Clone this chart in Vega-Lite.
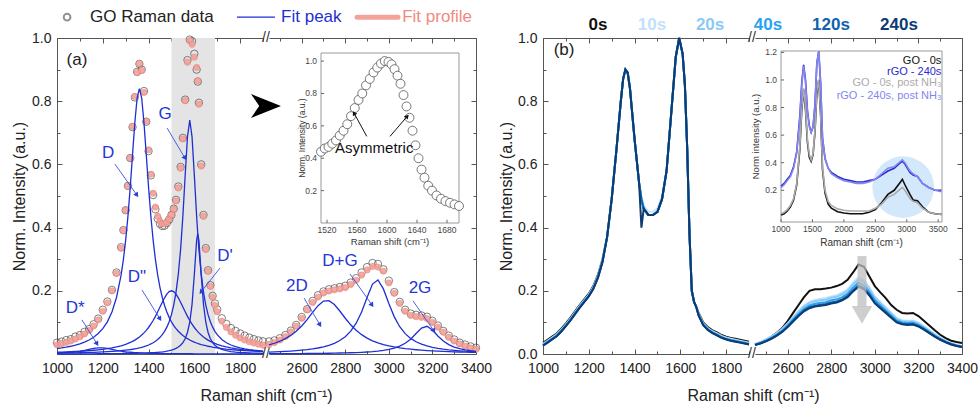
{
"$schema": "https://vega.github.io/schema/vega-lite/v6.json",
"background": "white",
"padding": {"left": 11, "top": 8, "right": 5, "bottom": 5},
"bounds": "flush",
"spacing": 6,
"resolve": {"scale": {"color": "independent"}},
"config": {
 "view": {"stroke": null},
 "font": "Liberation Sans",
 "axis": {"labelFont": "Liberation Sans", "titleFont": "Liberation Sans", "labelFontSize": 14, "labelColor": "#222", "titleFontSize": 16, "titleFontWeight": "normal", "titleColor": "#222", "domainColor": "#555", "tickColor": "#555", "grid": false, "labelFlush": false, "labelOverlap": false, "domainWidth": 1, "tickWidth": 1}
},
"datasets": {
 "aL": [
  {"x":1000,"d":0.036,"f":0.029,"Ds":0.003,"D":0.0172,"Dpp":0.0056,"G":0.0028,"Dp":0.0004},
  {"x":1020,"d":0.039,"f":0.0324,"Ds":0.0036,"D":0.0192,"Dpp":0.0061,"G":0.0031,"Dp":0.0004},
  {"x":1040,"d":0.044,"f":0.0364,"Ds":0.0044,"D":0.0216,"Dpp":0.0066,"G":0.0033,"Dp":0.0005},
  {"x":1060,"d":0.047,"f":0.0412,"Ds":0.0055,"D":0.0245,"Dpp":0.0072,"G":0.0035,"Dp":0.0005},
  {"x":1080,"d":0.055,"f":0.0471,"Ds":0.0069,"D":0.028,"Dpp":0.0079,"G":0.0038,"Dp":0.0005},
  {"x":1100,"d":0.06,"f":0.0544,"Ds":0.0088,"D":0.0323,"Dpp":0.0086,"G":0.0041,"Dp":0.0006},
  {"x":1120,"d":0.07,"f":0.0636,"Ds":0.0113,"D":0.0377,"Dpp":0.0095,"G":0.0045,"Dp":0.0006},
  {"x":1140,"d":0.079,"f":0.075,"Ds":0.0144,"D":0.0444,"Dpp":0.0106,"G":0.0049,"Dp":0.0007},
  {"x":1160,"d":0.094,"f":0.0886,"Ds":0.0175,"D":0.0532,"Dpp":0.0118,"G":0.0054,"Dp":0.0007},
  {"x":1180,"d":0.112,"f":0.108,"Ds":0.0197,"D":0.0647,"Dpp":0.0132,"G":0.0059,"Dp":0.0008},
  {"x":1200,"d":0.14,"f":0.135,"Ds":0.0197,"D":0.0803,"Dpp":0.0149,"G":0.0066,"Dp":0.0009},
  {"x":1220,"d":0.166,"f":0.162,"Ds":0.0175,"D":0.1018,"Dpp":0.0169,"G":0.0073,"Dp":0.001},
  {"x":1240,"d":0.203,"f":0.2,"Ds":0.0144,"D":0.1328,"Dpp":0.0193,"G":0.0082,"Dp":0.0011},
  {"x":1260,"d":0.258,"f":0.255,"Ds":0.0113,"D":0.1788,"Dpp":0.0223,"G":0.0093,"Dp":0.0012},
  {"x":1280,"d":0.338,"f":0.335,"Ds":0.0088,"D":0.2495,"Dpp":0.026,"G":0.0105,"Dp":0.0015},
  {"x":1290,"d":0.392,"f":0.39,"Ds":0.0078,"D":0.2987,"Dpp":0.0282,"G":0.0112,"Dp":0.0016},
  {"x":1300,"d":0.455,"f":0.455,"Ds":0.0069,"D":0.3604,"Dpp":0.0306,"G":0.012,"Dp":0.0017},
  {"x":1310,"d":0.532,"f":0.53,"Ds":0.0062,"D":0.4365,"Dpp":0.0334,"G":0.0129,"Dp":0.0018},
  {"x":1320,"d":0.62,"f":0.62,"Ds":0.0055,"D":0.5277,"Dpp":0.0365,"G":0.0139,"Dp":0.0019},
  {"x":1330,"d":0.718,"f":0.72,"Ds":0.0049,"D":0.6303,"Dpp":0.04,"G":0.015,"Dp":0.0021},
  {"x":1340,"d":0.812,"f":0.815,"Ds":0.0044,"D":0.7318,"Dpp":0.044,"G":0.0163,"Dp":0.0022},
  {"x":1350,"d":0.893,"f":0.89,"Ds":0.004,"D":0.81,"Dpp":0.0486,"G":0.0177,"Dp":0.0024},
  {"x":1360,"d":0.918,"f":0.9194,"Ds":0.0036,"D":0.84,"Dpp":0.0539,"G":0.0193,"Dp":0.0026},
  {"x":1370,"d":0.9,"f":0.8971,"Ds":0.0033,"D":0.81,"Dpp":0.0599,"G":0.0211,"Dp":0.0028},
  {"x":1380,"d":0.832,"f":0.8278,"Ds":0.003,"D":0.7318,"Dpp":0.0668,"G":0.0232,"Dp":0.003},
  {"x":1390,"d":0.735,"f":0.7367,"Ds":0.0028,"D":0.6303,"Dpp":0.0748,"G":0.0256,"Dp":0.0032},
  {"x":1400,"d":0.642,"f":0.6462,"Ds":0.0025,"D":0.5277,"Dpp":0.0839,"G":0.0285,"Dp":0.0036},
  {"x":1410,"d":0.565,"f":0.5688,"Ds":0.0023,"D":0.4365,"Dpp":0.0943,"G":0.0318,"Dp":0.0039},
  {"x":1420,"d":0.503,"f":0.5088,"Ds":0.0022,"D":0.3604,"Dpp":0.1061,"G":0.0357,"Dp":0.0044},
  {"x":1430,"d":0.458,"f":0.465,"Ds":0.002,"D":0.2987,"Dpp":0.1192,"G":0.0403,"Dp":0.0048},
  {"x":1440,"d":0.428,"f":0.4362,"Ds":0.0019,"D":0.2495,"Dpp":0.1335,"G":0.0459,"Dp":0.0054},
  {"x":1450,"d":0.412,"f":0.4193,"Ds":0.0017,"D":0.2102,"Dpp":0.1486,"G":0.0527,"Dp":0.0061},
  {"x":1460,"d":0.405,"f":0.412,"Ds":0.0016,"D":0.1788,"Dpp":0.1637,"G":0.0611,"Dp":0.0068},
  {"x":1470,"d":0.406,"f":0.4121,"Ds":0.0015,"D":0.1534,"Dpp":0.1778,"G":0.0716,"Dp":0.0078},
  {"x":1480,"d":0.414,"f":0.4176,"Ds":0.0014,"D":0.1328,"Dpp":0.1895,"G":0.0849,"Dp":0.009},
  {"x":1490,"d":0.425,"f":0.427,"Ds":0.0013,"D":0.1159,"Dpp":0.1973,"G":0.1021,"Dp":0.0104},
  {"x":1500,"d":0.44,"f":0.44,"Ds":0.0013,"D":0.1018,"Dpp":0.2,"G":0.1246,"Dp":0.0123},
  {"x":1510,"d":0.46,"f":0.458,"Ds":0.0012,"D":0.0901,"Dpp":0.1973,"G":0.1548,"Dp":0.0146},
  {"x":1520,"d":0.488,"f":0.4845,"Ds":0.0011,"D":0.0803,"Dpp":0.1895,"G":0.1959,"Dp":0.0177},
  {"x":1530,"d":0.53,"f":0.5253,"Ds":0.0011,"D":0.0719,"Dpp":0.1778,"G":0.2526,"Dp":0.0219},
  {"x":1540,"d":0.592,"f":0.5881,"Ds":0.001,"D":0.0647,"Dpp":0.1637,"G":0.3311,"Dp":0.0276},
  {"x":1550,"d":0.684,"f":0.6806,"Ds":0.0009,"D":0.0585,"Dpp":0.1486,"G":0.4367,"Dp":0.0359},
  {"x":1560,"d":0.805,"f":0.8015,"Ds":0.0009,"D":0.0532,"Dpp":0.1335,"G":0.5655,"Dp":0.0484},
  {"x":1570,"d":0.93,"f":0.9235,"Ds":0.0008,"D":0.0485,"Dpp":0.1192,"G":0.687,"Dp":0.068},
  {"x":1580,"d":0.995,"f":0.9919,"Ds":0.0008,"D":0.0444,"Dpp":0.1061,"G":0.74,"Dp":0.1006},
  {"x":1590,"d":0.99,"f":0.9802,"Ds":0.0008,"D":0.0409,"Dpp":0.0943,"G":0.687,"Dp":0.1572},
  {"x":1600,"d":0.95,"f":0.9394,"Ds":0.0007,"D":0.0377,"Dpp":0.0839,"G":0.5655,"Dp":0.2516},
  {"x":1610,"d":0.9,"f":0.9066,"Ds":0.0007,"D":0.0348,"Dpp":0.0748,"G":0.4367,"Dp":0.3596},
  {"x":1615,"d":0.862,"f":0.8653,"Ds":0.0007,"D":0.0335,"Dpp":0.0707,"G":0.3804,"Dp":0.38},
  {"x":1620,"d":0.795,"f":0.7905,"Ds":0.0007,"D":0.0323,"Dpp":0.0668,"G":0.3311,"Dp":0.3596},
  {"x":1630,"d":0.6,"f":0.5947,"Ds":0.0006,"D":0.03,"Dpp":0.0599,"G":0.2526,"Dp":0.2516},
  {"x":1640,"d":0.44,"f":0.4356,"Ds":0.0006,"D":0.028,"Dpp":0.0539,"G":0.1959,"Dp":0.1572},
  {"x":1650,"d":0.335,"f":0.3308,"Ds":0.0006,"D":0.0262,"Dpp":0.0486,"G":0.1548,"Dp":0.1006},
  {"x":1660,"d":0.265,"f":0.2616,"Ds":0.0005,"D":0.0245,"Dpp":0.044,"G":0.1246,"Dp":0.068},
  {"x":1670,"d":0.218,"f":0.214,"Ds":0.0005,"D":0.023,"Dpp":0.04,"G":0.1021,"Dp":0.0484},
  {"x":1680,"d":0.184,"f":0.1794,"Ds":0.0005,"D":0.0216,"Dpp":0.0365,"G":0.0849,"Dp":0.0359},
  {"x":1690,"d":0.16,"f":0.1535,"Ds":0.0005,"D":0.0204,"Dpp":0.0334,"G":0.0716,"Dp":0.0276},
  {"x":1700,"d":0.141,"f":0.1333,"Ds":0.0005,"D":0.0192,"Dpp":0.0306,"G":0.0611,"Dp":0.0219},
  {"x":1720,"d":0.113,"f":0.1041,"Ds":0.0004,"D":0.0172,"Dpp":0.026,"G":0.0459,"Dp":0.0146},
  {"x":1740,"d":0.095,"f":0.0842,"Ds":0.0004,"D":0.0154,"Dpp":0.0223,"G":0.0357,"Dp":0.0104},
  {"x":1760,"d":0.082,"f":0.07,"Ds":0.0004,"D":0.014,"Dpp":0.0193,"G":0.0285,"Dp":0.0078},
  {"x":1780,"d":0.073,"f":0.0593,"Ds":0.0004,"D":0.0127,"Dpp":0.0169,"G":0.0232,"Dp":0.0061},
  {"x":1800,"d":0.065,"f":0.0509,"Ds":0.0003,"D":0.0116,"Dpp":0.0149,"G":0.0193,"Dp":0.0048},
  {"x":1820,"d":0.058,"f":0.0443,"Ds":0.0003,"D":0.0106,"Dpp":0.0132,"G":0.0163,"Dp":0.0039},
  {"x":1840,"d":0.052,"f":0.0389,"Ds":0.0003,"D":0.0097,"Dpp":0.0118,"G":0.0139,"Dp":0.0032},
  {"x":1860,"d":0.047,"f":0.0347,"Ds":0.0003,"D":0.009,"Dpp":0.0106,"G":0.012,"Dp":0.0028},
  {"x":1880,"d":0.043,"f":0.031,"Ds":0.0003,"D":0.0083,"Dpp":0.0095,"G":0.0105,"Dp":0.0024},
  {"x":1900,"d":0.04,"f":0.028,"Ds":0.0003,"D":0.0077,"Dpp":0.0086,"G":0.0093,"Dp":0.0021}
 ],
 "aR": [
  {"x":2450,"d":0.04,"f":0.03,"p2D":0.0289,"pDG":0.006,"p2G":0.0009},
  {"x":2475,"d":0.043,"f":0.036,"p2D":0.034,"pDG":0.0066,"p2G":0.001},
  {"x":2500,"d":0.05,"f":0.044,"p2D":0.0404,"pDG":0.0074,"p2G":0.0011},
  {"x":2525,"d":0.06,"f":0.055,"p2D":0.0485,"pDG":0.0082,"p2G":0.0012},
  {"x":2550,"d":0.074,"f":0.07,"p2D":0.0588,"pDG":0.0093,"p2G":0.0013},
  {"x":2575,"d":0.092,"f":0.088,"p2D":0.072,"pDG":0.0105,"p2G":0.0014},
  {"x":2600,"d":0.117,"f":0.113,"p2D":0.0886,"pDG":0.012,"p2G":0.0015},
  {"x":2625,"d":0.142,"f":0.14,"p2D":0.1088,"pDG":0.0138,"p2G":0.0016},
  {"x":2650,"d":0.168,"f":0.163,"p2D":0.1314,"pDG":0.0161,"p2G":0.0018},
  {"x":2675,"d":0.186,"f":0.18,"p2D":0.153,"pDG":0.019,"p2G":0.002},
  {"x":2700,"d":0.198,"f":0.193,"p2D":0.1674,"pDG":0.0226,"p2G":0.0022},
  {"x":2725,"d":0.205,"f":0.199,"p2D":0.1688,"pDG":0.0274,"p2G":0.0024},
  {"x":2750,"d":0.208,"f":0.203,"p2D":0.1567,"pDG":0.0339,"p2G":0.0027},
  {"x":2775,"d":0.212,"f":0.206,"p2D":0.136,"pDG":0.0426,"p2G":0.0031},
  {"x":2800,"d":0.216,"f":0.21,"p2D":0.1132,"pDG":0.0548,"p2G":0.0035},
  {"x":2825,"d":0.226,"f":0.22,"p2D":0.0924,"pDG":0.0723,"p2G":0.004},
  {"x":2850,"d":0.24,"f":0.233,"p2D":0.075,"pDG":0.0975,"p2G":0.0046},
  {"x":2875,"d":0.258,"f":0.25,"p2D":0.0612,"pDG":0.1331,"p2G":0.0053},
  {"x":2900,"d":0.275,"f":0.266,"p2D":0.0503,"pDG":0.1785,"p2G":0.0063},
  {"x":2925,"d":0.288,"f":0.277,"p2D":0.0418,"pDG":0.2212,"p2G":0.0075},
  {"x":2950,"d":0.285,"f":0.275,"p2D":0.0352,"pDG":0.2341,"p2G":0.0092},
  {"x":2975,"d":0.268,"f":0.262,"p2D":0.0299,"pDG":0.206,"p2G":0.0113},
  {"x":3000,"d":0.232,"f":0.225,"p2D":0.0256,"pDG":0.1596,"p2G":0.0143},
  {"x":3025,"d":0.196,"f":0.192,"p2D":0.0222,"pDG":0.1175,"p2G":0.0186},
  {"x":3050,"d":0.165,"f":0.16,"p2D":0.0193,"pDG":0.0863,"p2G":0.0247},
  {"x":3075,"d":0.14,"f":0.135,"p2D":0.017,"pDG":0.0645,"p2G":0.0338},
  {"x":3100,"d":0.128,"f":0.122,"p2D":0.0151,"pDG":0.0494,"p2G":0.047},
  {"x":3125,"d":0.124,"f":0.118,"p2D":0.0134,"pDG":0.0388,"p2G":0.0647},
  {"x":3150,"d":0.122,"f":0.116,"p2D":0.012,"pDG":0.0311,"p2G":0.0822},
  {"x":3175,"d":0.118,"f":0.112,"p2D":0.0108,"pDG":0.0254,"p2G":0.0876},
  {"x":3200,"d":0.105,"f":0.1,"p2D":0.0098,"pDG":0.0211,"p2G":0.0759},
  {"x":3225,"d":0.09,"f":0.085,"p2D":0.0089,"pDG":0.0177,"p2G":0.0572},
  {"x":3250,"d":0.073,"f":0.069,"p2D":0.0081,"pDG":0.0151,"p2G":0.0412},
  {"x":3275,"d":0.058,"f":0.053,"p2D":0.0075,"pDG":0.013,"p2G":0.0297},
  {"x":3300,"d":0.046,"f":0.041,"p2D":0.0069,"pDG":0.0114,"p2G":0.022},
  {"x":3325,"d":0.036,"f":0.032,"p2D":0.0063,"pDG":0.01,"p2G":0.0167},
  {"x":3350,"d":0.03,"f":0.025,"p2D":0.0059,"pDG":0.0088,"p2G":0.013},
  {"x":3375,"d":0.024,"f":0.019,"p2D":0.0054,"pDG":0.0079,"p2G":0.0104},
  {"x":3400,"d":0.02,"f":0.015,"p2D":0.0051,"pDG":0.007,"p2G":0.0085}
 ],
 "aI": [
  {"x":1512,"y":0.44},{"x":1517,"y":0.46},{"x":1522,"y":0.47},{"x":1527,"y":0.49},{"x":1532,"y":0.51},
  {"x":1537,"y":0.54},{"x":1542,"y":0.57},{"x":1547,"y":0.61},{"x":1552,"y":0.66},{"x":1557,"y":0.71},
  {"x":1562,"y":0.76},{"x":1567,"y":0.8},{"x":1572,"y":0.85},{"x":1577,"y":0.89},{"x":1582,"y":0.93},
  {"x":1587,"y":0.96},{"x":1592,"y":0.985},{"x":1597,"y":1.0},{"x":1602,"y":0.995},{"x":1606,"y":0.98},
  {"x":1610,"y":0.95},{"x":1614,"y":0.91},{"x":1618,"y":0.86},{"x":1622,"y":0.79},{"x":1626,"y":0.72},
  {"x":1630,"y":0.65},{"x":1634,"y":0.57},{"x":1638,"y":0.48},{"x":1642,"y":0.4},{"x":1646,"y":0.33},
  {"x":1650,"y":0.28},{"x":1655,"y":0.23},{"x":1660,"y":0.2},{"x":1666,"y":0.17},{"x":1672,"y":0.15},
  {"x":1678,"y":0.135},{"x":1684,"y":0.125},{"x":1690,"y":0.115},{"x":1696,"y":0.105}
 ],
 "bL": [
  {"x":1000,"s0":0.035,"s10":0.032,"s20":0.03,"s40":0.028,"s120":0.027,"s240":0.026},
  {"x":1020,"s0":0.045,"s10":0.042,"s20":0.04,"s40":0.038,"s120":0.037,"s240":0.036},
  {"x":1040,"s0":0.055,"s10":0.052,"s20":0.05,"s40":0.048,"s120":0.047,"s240":0.046},
  {"x":1060,"s0":0.065,"s10":0.062,"s20":0.06,"s40":0.058,"s120":0.057,"s240":0.056},
  {"x":1080,"s0":0.08,"s10":0.077,"s20":0.075,"s40":0.073,"s120":0.072,"s240":0.071},
  {"x":1100,"s0":0.097,"s10":0.094,"s20":0.092,"s40":0.09,"s120":0.089,"s240":0.088},
  {"x":1120,"s0":0.115,"s10":0.112,"s20":0.11,"s40":0.108,"s120":0.107,"s240":0.106},
  {"x":1140,"s0":0.135,"s10":0.132,"s20":0.13,"s40":0.128,"s120":0.127,"s240":0.126},
  {"x":1160,"s0":0.155,"s10":0.152,"s20":0.15,"s40":0.148,"s120":0.147,"s240":0.146},
  {"x":1180,"s0":0.173,"s10":0.17,"s20":0.168,"s40":0.166,"s120":0.165,"s240":0.164},
  {"x":1200,"s0":0.191,"s10":0.188,"s20":0.186,"s40":0.184,"s120":0.183,"s240":0.182},
  {"x":1220,"s0":0.215,"s10":0.212,"s20":0.21,"s40":0.208,"s120":0.207,"s240":0.206},
  {"x":1240,"s0":0.25,"s10":0.247,"s20":0.245,"s40":0.243,"s120":0.242,"s240":0.241},
  {"x":1260,"s0":0.3,"s10":0.297,"s20":0.295,"s40":0.293,"s120":0.292,"s240":0.291},
  {"x":1280,"s0":0.37,"s10":0.37,"s20":0.37,"s40":0.37,"s120":0.37,"s240":0.37},
  {"x":1300,"s0":0.49,"s10":0.49,"s20":0.49,"s40":0.49,"s120":0.49,"s240":0.49},
  {"x":1320,"s0":0.64,"s10":0.64,"s20":0.64,"s40":0.64,"s120":0.64,"s240":0.64},
  {"x":1340,"s0":0.8,"s10":0.8,"s20":0.8,"s40":0.8,"s120":0.8,"s240":0.8},
  {"x":1350,"s0":0.87,"s10":0.87,"s20":0.87,"s40":0.87,"s120":0.87,"s240":0.87},
  {"x":1360,"s0":0.9,"s10":0.9,"s20":0.9,"s40":0.9,"s120":0.9,"s240":0.9},
  {"x":1370,"s0":0.89,"s10":0.89,"s20":0.89,"s40":0.89,"s120":0.89,"s240":0.89},
  {"x":1380,"s0":0.84,"s10":0.84,"s20":0.84,"s40":0.84,"s120":0.84,"s240":0.84},
  {"x":1400,"s0":0.68,"s10":0.68,"s20":0.68,"s40":0.68,"s120":0.68,"s240":0.68},
  {"x":1420,"s0":0.54,"s10":0.54,"s20":0.54,"s40":0.54,"s120":0.54,"s240":0.54},
  {"x":1430,"s0":0.49,"s10":0.5,"s20":0.49,"s40":0.49,"s120":0.49,"s240":0.4},
  {"x":1440,"s0":0.46,"s10":0.47,"s20":0.46,"s40":0.46,"s120":0.46,"s240":0.46},
  {"x":1460,"s0":0.44,"s10":0.45,"s20":0.44,"s40":0.44,"s120":0.44,"s240":0.44},
  {"x":1480,"s0":0.44,"s10":0.45,"s20":0.44,"s40":0.44,"s120":0.44,"s240":0.44},
  {"x":1500,"s0":0.45,"s10":0.46,"s20":0.45,"s40":0.45,"s120":0.45,"s240":0.45},
  {"x":1520,"s0":0.49,"s10":0.5,"s20":0.49,"s40":0.49,"s120":0.49,"s240":0.49},
  {"x":1540,"s0":0.58,"s10":0.58,"s20":0.58,"s40":0.58,"s120":0.58,"s240":0.58},
  {"x":1560,"s0":0.76,"s10":0.76,"s20":0.76,"s40":0.76,"s120":0.76,"s240":0.76},
  {"x":1580,"s0":0.94,"s10":0.94,"s20":0.94,"s40":0.94,"s120":0.94,"s240":0.94},
  {"x":1595,"s0":1.0,"s10":1.0,"s20":1.0,"s40":1.0,"s120":1.0,"s240":1.0},
  {"x":1610,"s0":0.95,"s10":0.95,"s20":0.95,"s40":0.95,"s120":0.95,"s240":0.95},
  {"x":1620,"s0":0.85,"s10":0.85,"s20":0.85,"s40":0.85,"s120":0.85,"s240":0.85},
  {"x":1630,"s0":0.65,"s10":0.65,"s20":0.65,"s40":0.65,"s120":0.65,"s240":0.65},
  {"x":1640,"s0":0.38,"s10":0.38,"s20":0.38,"s40":0.38,"s120":0.38,"s240":0.38},
  {"x":1650,"s0":0.2,"s10":0.2,"s20":0.2,"s40":0.2,"s120":0.2,"s240":0.2},
  {"x":1660,"s0":0.165,"s10":0.165,"s20":0.165,"s40":0.165,"s120":0.165,"s240":0.165},
  {"x":1670,"s0":0.148,"s10":0.148,"s20":0.148,"s40":0.148,"s120":0.148,"s240":0.148},
  {"x":1680,"s0":0.13,"s10":0.127,"s20":0.125,"s40":0.123,"s120":0.122,"s240":0.121},
  {"x":1700,"s0":0.1,"s10":0.097,"s20":0.095,"s40":0.093,"s120":0.092,"s240":0.091},
  {"x":1720,"s0":0.085,"s10":0.082,"s20":0.08,"s40":0.078,"s120":0.077,"s240":0.076},
  {"x":1740,"s0":0.075,"s10":0.072,"s20":0.07,"s40":0.068,"s120":0.067,"s240":0.066},
  {"x":1760,"s0":0.068,"s10":0.065,"s20":0.063,"s40":0.061,"s120":0.06,"s240":0.059},
  {"x":1780,"s0":0.06,"s10":0.057,"s20":0.055,"s40":0.053,"s120":0.052,"s240":0.051},
  {"x":1800,"s0":0.055,"s10":0.052,"s20":0.05,"s40":0.048,"s120":0.047,"s240":0.046},
  {"x":1820,"s0":0.051,"s10":0.048,"s20":0.046,"s40":0.044,"s120":0.043,"s240":0.042},
  {"x":1840,"s0":0.048,"s10":0.045,"s20":0.043,"s40":0.041,"s120":0.04,"s240":0.039},
  {"x":1860,"s0":0.045,"s10":0.042,"s20":0.04,"s40":0.038,"s120":0.037,"s240":0.036},
  {"x":1880,"s0":0.042,"s10":0.039,"s20":0.037,"s40":0.035,"s120":0.034,"s240":0.033},
  {"x":1900,"s0":0.039,"s10":0.036,"s20":0.034,"s40":0.032,"s120":0.031,"s240":0.03}
 ],
 "bR": [
  {"x":2450,"s0":0.03,"s10":0.032,"s20":0.031,"s40":0.03,"s120":0.029,"s240":0.028},
  {"x":2475,"s0":0.037,"s10":0.038,"s20":0.037,"s40":0.035,"s120":0.034,"s240":0.033},
  {"x":2500,"s0":0.045,"s10":0.046,"s20":0.044,"s40":0.042,"s120":0.041,"s240":0.04},
  {"x":2525,"s0":0.055,"s10":0.055,"s20":0.053,"s40":0.051,"s120":0.049,"s240":0.048},
  {"x":2550,"s0":0.067,"s10":0.066,"s20":0.064,"s40":0.061,"s120":0.059,"s240":0.058},
  {"x":2575,"s0":0.082,"s10":0.08,"s20":0.078,"s40":0.074,"s120":0.071,"s240":0.07},
  {"x":2600,"s0":0.104,"s10":0.097,"s20":0.094,"s40":0.09,"s120":0.087,"s240":0.085},
  {"x":2625,"s0":0.13,"s10":0.117,"s20":0.114,"s40":0.109,"s120":0.105,"s240":0.103},
  {"x":2650,"s0":0.155,"s10":0.137,"s20":0.133,"s40":0.127,"s120":0.122,"s240":0.12},
  {"x":2675,"s0":0.18,"s10":0.154,"s20":0.15,"s40":0.143,"s120":0.138,"s240":0.135},
  {"x":2700,"s0":0.2,"s10":0.165,"s20":0.161,"s40":0.154,"s120":0.148,"s240":0.145},
  {"x":2725,"s0":0.205,"s10":0.171,"s20":0.167,"s40":0.159,"s120":0.153,"s240":0.15},
  {"x":2750,"s0":0.205,"s10":0.174,"s20":0.17,"s40":0.162,"s120":0.156,"s240":0.153},
  {"x":2775,"s0":0.207,"s10":0.177,"s20":0.172,"s40":0.164,"s120":0.158,"s240":0.155},
  {"x":2800,"s0":0.21,"s10":0.182,"s20":0.178,"s40":0.17,"s120":0.163,"s240":0.16},
  {"x":2825,"s0":0.215,"s10":0.186,"s20":0.181,"s40":0.173,"s120":0.166,"s240":0.163},
  {"x":2850,"s0":0.222,"s10":0.194,"s20":0.189,"s40":0.18,"s120":0.173,"s240":0.17},
  {"x":2875,"s0":0.235,"s10":0.205,"s20":0.2,"s40":0.191,"s120":0.184,"s240":0.18},
  {"x":2900,"s0":0.258,"s10":0.226,"s20":0.22,"s40":0.21,"s120":0.202,"s240":0.198},
  {"x":2925,"s0":0.283,"s10":0.243,"s20":0.236,"s40":0.226,"s120":0.217,"s240":0.213},
  {"x":2950,"s0":0.276,"s10":0.234,"s20":0.228,"s40":0.217,"s120":0.209,"s240":0.205},
  {"x":2975,"s0":0.245,"s10":0.211,"s20":0.205,"s40":0.196,"s120":0.189,"s240":0.185},
  {"x":3000,"s0":0.215,"s10":0.182,"s20":0.178,"s40":0.17,"s120":0.163,"s240":0.16},
  {"x":3025,"s0":0.195,"s10":0.165,"s20":0.161,"s40":0.154,"s120":0.148,"s240":0.145},
  {"x":3050,"s0":0.177,"s10":0.148,"s20":0.144,"s40":0.138,"s120":0.133,"s240":0.13},
  {"x":3075,"s0":0.155,"s10":0.131,"s20":0.128,"s40":0.122,"s120":0.117,"s240":0.115},
  {"x":3100,"s0":0.14,"s10":0.114,"s20":0.111,"s40":0.106,"s120":0.102,"s240":0.1},
  {"x":3125,"s0":0.13,"s10":0.107,"s20":0.104,"s40":0.1,"s120":0.096,"s240":0.094},
  {"x":3150,"s0":0.128,"s10":0.105,"s20":0.102,"s40":0.098,"s120":0.094,"s240":0.092},
  {"x":3175,"s0":0.13,"s10":0.106,"s20":0.103,"s40":0.099,"s120":0.095,"s240":0.093},
  {"x":3200,"s0":0.12,"s10":0.099,"s20":0.097,"s40":0.092,"s120":0.089,"s240":0.087},
  {"x":3225,"s0":0.105,"s10":0.088,"s20":0.085,"s40":0.082,"s120":0.079,"s240":0.077},
  {"x":3250,"s0":0.09,"s10":0.075,"s20":0.073,"s40":0.07,"s120":0.067,"s240":0.066},
  {"x":3275,"s0":0.075,"s10":0.063,"s20":0.061,"s40":0.058,"s120":0.056,"s240":0.055},
  {"x":3300,"s0":0.061,"s10":0.051,"s20":0.05,"s40":0.048,"s120":0.046,"s240":0.045},
  {"x":3325,"s0":0.05,"s10":0.042,"s20":0.041,"s40":0.039,"s120":0.038,"s240":0.037},
  {"x":3350,"s0":0.042,"s10":0.034,"s20":0.033,"s40":0.032,"s120":0.031,"s240":0.03},
  {"x":3375,"s0":0.038,"s10":0.029,"s20":0.028,"s40":0.027,"s120":0.026,"s240":0.025},
  {"x":3400,"s0":0.035,"s10":0.025,"s20":0.024,"s40":0.023,"s120":0.022,"s240":0.022}
 ],
 "bI": [
  {"x":1000,"go":0.02,"gon":0.03,"rgo":0.23,"rgon":0.22},
  {"x":1050,"go":0.03,"gon":0.04,"rgo":0.25,"rgon":0.24},
  {"x":1100,"go":0.05,"gon":0.06,"rgo":0.28,"rgon":0.27},
  {"x":1150,"go":0.08,"gon":0.09,"rgo":0.31,"rgon":0.3},
  {"x":1200,"go":0.13,"gon":0.14,"rgo":0.37,"rgon":0.36},
  {"x":1250,"go":0.24,"gon":0.25,"rgo":0.48,"rgon":0.47},
  {"x":1300,"go":0.5,"gon":0.52,"rgo":0.74,"rgon":0.72},
  {"x":1330,"go":0.78,"gon":0.8,"rgo":0.98,"rgon":0.96},
  {"x":1360,"go":0.93,"gon":0.94,"rgo":1.11,"rgon":1.1},
  {"x":1390,"go":0.78,"gon":0.8,"rgo":1.0,"rgon":0.98},
  {"x":1420,"go":0.55,"gon":0.57,"rgo":0.78,"rgon":0.77},
  {"x":1450,"go":0.44,"gon":0.46,"rgo":0.67,"rgon":0.66},
  {"x":1480,"go":0.41,"gon":0.42,"rgo":0.62,"rgon":0.62},
  {"x":1510,"go":0.46,"gon":0.47,"rgo":0.66,"rgon":0.66},
  {"x":1540,"go":0.62,"gon":0.63,"rgo":0.82,"rgon":0.82},
  {"x":1570,"go":0.9,"gon":0.92,"rgo":1.12,"rgon":1.12},
  {"x":1600,"go":1.0,"gon":1.0,"rgo":1.21,"rgon":1.21},
  {"x":1630,"go":0.75,"gon":0.76,"rgo":0.98,"rgon":0.98},
  {"x":1660,"go":0.35,"gon":0.37,"rgo":0.58,"rgon":0.58},
  {"x":1700,"go":0.18,"gon":0.2,"rgo":0.43,"rgon":0.43},
  {"x":1750,"go":0.1,"gon":0.12,"rgo":0.36,"rgon":0.36},
  {"x":1800,"go":0.07,"gon":0.09,"rgo":0.33,"rgon":0.32},
  {"x":1900,"go":0.045,"gon":0.065,"rgo":0.3,"rgon":0.29},
  {"x":2000,"go":0.035,"gon":0.055,"rgo":0.28,"rgon":0.27},
  {"x":2100,"go":0.03,"gon":0.05,"rgo":0.27,"rgon":0.26},
  {"x":2200,"go":0.03,"gon":0.05,"rgo":0.26,"rgon":0.25},
  {"x":2300,"go":0.03,"gon":0.05,"rgo":0.26,"rgon":0.25},
  {"x":2400,"go":0.04,"gon":0.05,"rgo":0.27,"rgon":0.26},
  {"x":2500,"go":0.06,"gon":0.07,"rgo":0.28,"rgon":0.28},
  {"x":2600,"go":0.11,"gon":0.1,"rgo":0.31,"rgon":0.32},
  {"x":2700,"go":0.17,"gon":0.15,"rgo":0.34,"rgon":0.36},
  {"x":2800,"go":0.2,"gon":0.17,"rgo":0.36,"rgon":0.37},
  {"x":2900,"go":0.26,"gon":0.21,"rgo":0.4,"rgon":0.41},
  {"x":2930,"go":0.28,"gon":0.22,"rgo":0.41,"rgon":0.42},
  {"x":2970,"go":0.24,"gon":0.2,"rgo":0.39,"rgon":0.4},
  {"x":3050,"go":0.17,"gon":0.14,"rgo":0.33,"rgon":0.34},
  {"x":3100,"go":0.13,"gon":0.12,"rgo":0.31,"rgon":0.32},
  {"x":3170,"go":0.125,"gon":0.11,"rgo":0.3,"rgon":0.3},
  {"x":3250,"go":0.08,"gon":0.07,"rgo":0.25,"rgon":0.25},
  {"x":3350,"go":0.04,"gon":0.04,"rgo":0.22,"rgon":0.22},
  {"x":3450,"go":0.03,"gon":0.03,"rgo":0.2,"rgon":0.2},
  {"x":3550,"go":0.025,"gon":0.025,"rgo":0.2,"rgon":0.19}
 ],
 "aIx": [{"v":1520,"t":"1520"},{"v":1560,"t":"1560"},{"v":1600,"t":"1600"},{"v":1640,"t":"1640"},{"v":1680,"t":"1680"}],
 "aIy": [{"v":0.2,"t":"0.2"},{"v":0.4,"t":"0.4"},{"v":0.6,"t":"0.6"},{"v":0.8,"t":"0.8"},{"v":1.0,"t":"1.0"}],
 "bIx": [{"v":1000,"t":"1000"},{"v":1500,"t":"1500"},{"v":2000,"t":"2000"},{"v":2500,"t":"2500"},{"v":3000,"t":"3000"},{"v":3500,"t":"3500"}],
 "bIy": [{"v":0.2,"t":"0.2"},{"v":0.4,"t":"0.4"},{"v":0.6,"t":"0.6"},{"v":0.8,"t":"0.8"},{"v":1.0,"t":"1.0"},{"v":1.2,"t":"1.2"}],
 "arrL": [
  {"x": 1109, "y": 0.108, "x2": 1175, "y2": 0.032, "ang": 148},
  {"x": 1371, "y": 0.203, "x2": 1450, "y2": 0.111, "ang": 148},
  {"x": 1712, "y": 0.272, "x2": 1629, "y2": 0.196, "ang": 218},
  {"x": 1253, "y": 0.601, "x2": 1349, "y2": 0.503, "ang": 145},
  {"x": 1481, "y": 0.715, "x2": 1559, "y2": 0.62, "ang": 149}
 ],
 "arrR": [
  {"x": 2611, "y": 0.177, "x2": 2684, "y2": 0.092, "ang": 149},
  {"x": 2822, "y": 0.253, "x2": 2923, "y2": 0.155, "ang": 145},
  {"x": 3111, "y": 0.168, "x2": 3207, "y2": 0.073, "ang": 145}
 ],
 "arrI": [
  {"x": 1573, "y": 0.535, "x2": 1556, "y2": 0.679, "ang": 331},
  {"x": 1604, "y": 0.535, "x2": 1627, "y2": 0.659, "ang": 41}
 ]
},
"hconcat": [
  {
   "width": 206, "height": 316,
   "resolve": {"axis": {"x": "independent", "y": "independent"}},
   "layer": [
    {
     "data": {"values": [{"a": 1500, "b": 1690}]},
     "mark": {"type": "rect", "color": "#e4e4e4"},
     "encoding": {
      "x": {"field": "a", "type": "quantitative", "scale": {"domain": [1000, 1900], "nice": false, "zero": false},
            "axis": {"orient": "bottom", "values": [1000,1100,1200,1300,1400,1500,1600,1700,1800,1900], "format": "d",
                     "labelExpr": "datum.value % 200 === 0 ? datum.label : ''",
                     "tickSize": {"condition": {"test": "datum.value % 200 === 0", "value": -5}, "value": -3},
                     "labelPadding": 12, "title": "Raman shift (cm⁻¹)", "titleX": 209, "titleY": 41, "titleBaseline": "middle", "titleAlign": "center"}},
      "x2": {"field": "b"},
      "y": {"datum": 0, "type": "quantitative", "scale": {"domain": [0, 1], "nice": false, "zero": false},
            "axis": {"orient": "left", "values": [0.1,0.2,0.3,0.4,0.5,0.6,0.7,0.8,0.9,1.0], "format": ".1f",
                     "labelExpr": "round(datum.value*10) % 2 === 0 ? datum.label : ''",
                     "tickSize": {"condition": {"test": "round(datum.value*10) % 2 === 0", "value": -5}, "value": -3},
                     "labelPadding": 11, "title": "Norm. Intensity (a.u.)", "titleX": -38, "titleY": 158, "titleBaseline": "middle", "titleAlign": "center"}},
      "y2": {"datum": 1}
     }
    },
    {
     "data": {"name": "aL"},
     "mark": {"type": "point", "filled": false, "stroke": "#505050", "strokeWidth": 0.8, "size": 55, "opacity": 0.9},
     "encoding": {
      "x": {"field": "x", "type": "quantitative",
            "axis": {"orient": "top", "values": [1000,1100,1200,1300,1400,1500,1600,1700,1800,1900], "labels": false, "title": null,
                     "tickSize": {"condition": {"test": "datum.value % 200 === 0", "value": -5}, "value": -3}}},
      "y": {"field": "d", "type": "quantitative", "axis": null}
     }
    },
    {
     "data": {"name": "aL"},
     "mark": {"type": "point", "filled": true, "fill": "#f3a198", "stroke": "#e07f76", "strokeWidth": 0.5, "size": 40, "opacity": 0.9},
     "encoding": {
      "x": {"field": "x", "type": "quantitative", "axis": null},
      "y": {"field": "f", "type": "quantitative", "axis": null}
     }
    },
    {
     "data": {"name": "aL"},
     "transform": [{"fold": ["Ds", "D", "Dpp", "G", "Dp"], "as": ["k", "v"]}],
     "mark": {"type": "line", "color": "#1f2fd1", "strokeWidth": 1.3},
     "encoding": {
      "x": {"field": "x", "type": "quantitative", "axis": null},
      "y": {"field": "v", "type": "quantitative", "axis": null},
      "detail": {"field": "k"}
     }
    },
    {
     "data": {"name": "arrL"},
     "mark": {"type": "rule", "color": "#3a4ee0", "strokeWidth": 0.9},
     "encoding": {
      "x": {"field": "x", "type": "quantitative", "axis": null},
      "y": {"field": "y", "type": "quantitative", "axis": null},
      "x2": {"field": "x2"}, "y2": {"field": "y2"}
     }
    },
    {
     "data": {"name": "arrL"},
     "mark": {"type": "point", "shape": "triangle-up", "filled": true, "color": "#2a3ed8", "size": 30, "opacity": 1},
     "encoding": {
      "x": {"field": "x2", "type": "quantitative", "axis": null},
      "y": {"field": "y2", "type": "quantitative", "axis": null},
      "angle": {"field": "ang", "type": "quantitative", "scale": null}
     }
    },
    {
     "data": {"values": [
      {"x": 1079, "y": 0.146, "t": "D*"},
      {"x": 1349, "y": 0.244, "t": "D\""},
      {"x": 1734, "y": 0.31, "t": "D'"},
      {"x": 1223, "y": 0.636, "t": "D"},
      {"x": 1472, "y": 0.76, "t": "G"}
     ]},
     "mark": {"type": "text", "color": "#2536d8", "fontSize": 17},
     "encoding": {
      "x": {"field": "x", "type": "quantitative", "axis": null},
      "y": {"field": "y", "type": "quantitative", "axis": null},
      "text": {"field": "t"}
     }
    },
    {
     "data": {"values": [
      {"x": 1144, "y": 1.066, "t": "GO Raman data"},
      {"x": 1979, "y": 1.066, "t": "Fit peak"},
      {"x": 2508, "y": 1.066, "t": "Fit profile"}
     ]},
     "mark": {"type": "text", "align": "left", "fontSize": 17},
     "encoding": {
      "x": {"field": "x", "type": "quantitative", "axis": null},
      "y": {"field": "y", "type": "quantitative", "axis": null},
      "text": {"field": "t"},
      "color": {"field": "t", "type": "nominal", "scale": {"domain": ["GO Raman data", "Fit peak", "Fit profile"], "range": ["#222222", "#1f2fd1", "#f08a80"]}, "legend": null}
     }
    },
    {
     "data": {"values": [{"x": 1786, "x2": 1952, "y": 1.066}]},
     "mark": {"type": "rule", "color": "#1f2fd1", "strokeWidth": 1.3},
     "encoding": {
      "x": {"field": "x", "type": "quantitative", "axis": null},
      "x2": {"field": "x2"},
      "y": {"field": "y", "type": "quantitative", "axis": null}
     }
    },
    {
     "data": {"values": [{"x": 2311, "x2": 2490, "y": 1.066}]},
     "mark": {"type": "rule", "color": "#f4a39b", "strokeWidth": 5, "strokeCap": "round"},
     "encoding": {
      "x": {"field": "x", "type": "quantitative", "axis": null},
      "x2": {"field": "x2"},
      "y": {"field": "y", "type": "quantitative", "axis": null}
     }
    },
    {
     "data": {"values": [{"x": 1044, "y": 1.066}]},
     "mark": {"type": "point", "filled": false, "stroke": "#666666", "size": 45},
     "encoding": {
      "x": {"field": "x", "type": "quantitative", "axis": null},
      "y": {"field": "y", "type": "quantitative", "axis": null}
     }
    },
    {
     "data": {"values": [{"x": 1087, "y": 0.93, "t": "(a)"}]},
     "mark": {"type": "text", "fontSize": 17, "color": "#222222"},
     "encoding": {
      "x": {"field": "x", "type": "quantitative", "axis": null},
      "y": {"field": "y", "type": "quantitative", "axis": null},
      "text": {"field": "t"}
     }
    },
    {
     "data": {"values": [{"x": 1913, "y": 0.785}]},
     "mark": {"type": "point", "shape": "M1,0L-1,-0.8L-0.45,0L-1,0.8Z", "filled": true, "color": "#000000", "size": 900, "opacity": 1},
     "encoding": {
      "x": {"field": "x", "type": "quantitative", "axis": null},
      "y": {"field": "y", "type": "quantitative", "axis": null}
     }
    },
    {
     "data": {"values": [{"x": 1913, "y": 0}, {"x": 1913, "y": 1}]},
     "mark": {"type": "text", "text": "//", "fontSize": 14, "color": "#333333"},
     "encoding": {
      "x": {"field": "x", "type": "quantitative", "axis": null},
      "y": {"field": "y", "type": "quantitative", "axis": null}
     }
    }
   ]
  },
  {
   "width": 207, "height": 316,
   "resolve": {"scale": {"x": "independent", "y": "independent"}, "axis": {"x": "independent", "y": "independent"}},
   "layer": [
    {
     "resolve": {"axis": {"x": "independent", "y": "independent"}},
     "layer": [
      {
       "data": {"name": "aR"},
       "mark": {"type": "point", "filled": false, "stroke": "#505050", "strokeWidth": 0.8, "size": 55, "opacity": 0.9},
       "encoding": {
        "x": {"field": "x", "type": "quantitative", "scale": {"domain": [2450, 3400], "nice": false, "zero": false},
              "axis": {"orient": "bottom", "values": [2500,2600,2700,2800,2900,3000,3100,3200,3300,3400], "format": "d",
                       "labelExpr": "datum.value % 200 === 0 ? datum.label : ''",
                       "tickSize": {"condition": {"test": "datum.value % 200 === 0", "value": -5}, "value": -3},
                       "labelPadding": 12, "title": null}},
        "y": {"field": "d", "type": "quantitative", "scale": {"domain": [0, 1], "nice": false, "zero": false},
              "axis": {"orient": "right", "values": [0.1,0.2,0.3,0.4,0.5,0.6,0.7,0.8,0.9,1.0], "labels": false, "title": null,
                       "tickSize": {"condition": {"test": "round(datum.value*10) % 2 === 0", "value": -5}, "value": -3}}}
       }
      },
      {
       "data": {"name": "aR"},
       "mark": {"type": "point", "filled": true, "fill": "#f3a198", "stroke": "#e07f76", "strokeWidth": 0.5, "size": 40, "opacity": 0.9},
       "encoding": {
        "x": {"field": "x", "type": "quantitative",
              "axis": {"orient": "top", "values": [2500,2600,2700,2800,2900,3000,3100,3200,3300,3400], "labels": false, "title": null,
                       "tickSize": {"condition": {"test": "datum.value % 200 === 0", "value": -5}, "value": -3}}},
        "y": {"field": "f", "type": "quantitative", "axis": null}
       }
      },
      {
       "data": {"name": "aR"},
       "transform": [{"fold": ["p2D", "pDG", "p2G"], "as": ["k", "v"]}],
       "mark": {"type": "line", "color": "#1f2fd1", "strokeWidth": 1.3},
       "encoding": {
        "x": {"field": "x", "type": "quantitative", "axis": null},
        "y": {"field": "v", "type": "quantitative", "axis": null},
        "detail": {"field": "k"}
       }
      },
      {
       "data": {"name": "arrR"},
       "mark": {"type": "rule", "color": "#3a4ee0", "strokeWidth": 0.9},
       "encoding": {
        "x": {"field": "x", "type": "quantitative", "axis": null},
        "y": {"field": "y", "type": "quantitative", "axis": null},
        "x2": {"field": "x2"}, "y2": {"field": "y2"}
       }
      },
      {
       "data": {"name": "arrR"},
       "mark": {"type": "point", "shape": "triangle-up", "filled": true, "color": "#2a3ed8", "size": 30, "opacity": 1},
       "encoding": {
        "x": {"field": "x2", "type": "quantitative", "axis": null},
        "y": {"field": "y2", "type": "quantitative", "axis": null},
        "angle": {"field": "ang", "type": "quantitative", "scale": null}
       }
      },
      {
       "data": {"values": [
        {"x": 2578, "y": 0.215, "t": "2D"},
        {"x": 2776, "y": 0.294, "t": "D+G"},
        {"x": 3143, "y": 0.209, "t": "2G"}
       ]},
       "mark": {"type": "text", "color": "#2536d8", "fontSize": 17},
       "encoding": {
        "x": {"field": "x", "type": "quantitative", "axis": null},
        "y": {"field": "y", "type": "quantitative", "axis": null},
        "text": {"field": "t"}
       }
      }
     ]
    },
    {
     "layer": [
      {
       "data": {"values": [{}]},
       "mark": {"type": "rect", "fill": "white", "stroke": "#9a9a9a", "strokeWidth": 1},
       "encoding": {
        "x": {"datum": 1512, "type": "quantitative", "scale": {"domain": [1512, 1696], "range": [52, 190], "nice": false, "zero": false}, "axis": null},
        "x2": {"datum": 1696},
        "y": {"datum": 0, "type": "quantitative", "scale": {"domain": [0, 1.05], "range": [185, 15], "nice": false, "zero": false}, "axis": null},
        "y2": {"datum": 1.05}
       }
      },
      {
       "data": {"name": "aIx"},
       "mark": {"type": "rule", "color": "#666666", "strokeWidth": 1},
       "encoding": {
        "x": {"field": "v", "type": "quantitative", "axis": null},
        "y": {"datum": 0, "type": "quantitative", "axis": null},
        "y2": {"datum": 0.02}
       }
      },
      {
       "data": {"name": "aIy"},
       "mark": {"type": "rule", "color": "#666666", "strokeWidth": 1},
       "encoding": {
        "x": {"datum": 1512, "type": "quantitative", "axis": null},
        "x2": {"datum": 1516},
        "y": {"field": "v", "type": "quantitative", "axis": null}
       }
      },
      {
       "data": {"name": "aI"},
       "mark": {"type": "point", "filled": true, "fill": "white", "stroke": "#555555", "strokeWidth": 0.8, "size": 80, "opacity": 1},
       "encoding": {
        "x": {"field": "x", "type": "quantitative", "axis": null},
        "y": {"field": "y", "type": "quantitative", "axis": null}
       }
      },
      {
       "data": {"name": "aIx"},
       "mark": {"type": "text", "fontSize": 8.5, "color": "#444444", "baseline": "top", "dy": 3},
       "encoding": {
        "x": {"field": "v", "type": "quantitative", "axis": null},
        "y": {"datum": 0, "type": "quantitative", "axis": null},
        "text": {"field": "t"}
       }
      },
      {
       "data": {"name": "aIy"},
       "mark": {"type": "text", "fontSize": 8.5, "color": "#444444", "align": "right", "baseline": "middle", "dx": -4},
       "encoding": {
        "x": {"datum": 1512, "type": "quantitative", "axis": null},
        "y": {"field": "v", "type": "quantitative", "axis": null},
        "text": {"field": "t"}
       }
      },
      {
       "data": {"values": [{"x": 1604, "y": 0, "t": "Raman shift (cm⁻¹)"}]},
       "mark": {"type": "text", "fontSize": 9.5, "color": "#333333", "baseline": "top", "dy": 14},
       "encoding": {
        "x": {"field": "x", "type": "quantitative", "axis": null},
        "y": {"field": "y", "type": "quantitative", "axis": null},
        "text": {"field": "t"}
       }
      },
      {
       "data": {"values": [{"x": 1487, "y": 0.525, "t": "Norm. Intensity (a.u.)"}]},
       "mark": {"type": "text", "fontSize": 8.5, "color": "#333333", "angle": 270, "baseline": "middle"},
       "encoding": {
        "x": {"field": "x", "type": "quantitative", "axis": null},
        "y": {"field": "y", "type": "quantitative", "axis": null},
        "text": {"field": "t"}
       }
      },
      {
       "data": {"name": "arrI"},
       "mark": {"type": "rule", "color": "#111111", "strokeWidth": 1},
       "encoding": {
        "x": {"field": "x", "type": "quantitative", "axis": null},
        "y": {"field": "y", "type": "quantitative", "axis": null},
        "x2": {"field": "x2"}, "y2": {"field": "y2"}
       }
      },
      {
       "data": {"name": "arrI"},
       "mark": {"type": "point", "shape": "triangle-up", "filled": true, "color": "#111111", "size": 25, "opacity": 1},
       "encoding": {
        "x": {"field": "x2", "type": "quantitative", "axis": null},
        "y": {"field": "y2", "type": "quantitative", "axis": null},
        "angle": {"field": "ang", "type": "quantitative", "scale": null}
       }
      },
      {
       "data": {"values": [{"x": 1583, "y": 0.463, "t": "Asymmetric"}]},
       "mark": {"type": "text", "fontSize": 15, "color": "#111111"},
       "encoding": {
        "x": {"field": "x", "type": "quantitative", "axis": null},
        "y": {"field": "y", "type": "quantitative", "axis": null},
        "text": {"field": "t"}
       }
      }
     ]
    }
   ]
  },
  {
   "width": 55, "height": 316,
   "data": {"values": []},
   "mark": {"type": "point", "opacity": 0}
  },
  {
   "width": 206, "height": 316,
   "resolve": {"axis": {"x": "independent", "y": "independent"}},
   "layer": [
    {
     "data": {"name": "bL"},
     "transform": [{"fold": ["s0", "s10", "s20", "s40", "s120", "s240"], "as": ["k", "v"]}],
     "mark": {"type": "line", "strokeWidth": 2},
     "encoding": {
      "x": {"field": "x", "type": "quantitative", "scale": {"domain": [1000, 1900], "nice": false, "zero": false},
            "axis": {"orient": "bottom", "values": [1000,1100,1200,1300,1400,1500,1600,1700,1800,1900], "format": "d",
                     "labelExpr": "datum.value % 200 === 0 ? datum.label : ''",
                     "tickSize": {"condition": {"test": "datum.value % 200 === 0", "value": -5}, "value": -3},
                     "labelPadding": 12, "title": "Raman shift (cm⁻¹)", "titleX": 210, "titleY": 41, "titleBaseline": "middle", "titleAlign": "center"}},
      "y": {"field": "v", "type": "quantitative", "scale": {"domain": [0, 1], "nice": false, "zero": false},
            "axis": {"orient": "left", "values": [0,0.1,0.2,0.3,0.4,0.5,0.6,0.7,0.8,0.9,1.0], "format": ".1f",
                     "labelExpr": "round(datum.value*10) % 2 === 0 ? datum.label : ''",
                     "tickSize": {"condition": {"test": "round(datum.value*10) % 2 === 0", "value": -5}, "value": -3},
                     "labelPadding": 11, "title": "Norm. Intensity (a.u.)", "titleX": -37, "titleY": 158, "titleBaseline": "middle", "titleAlign": "center"}},
      "color": {"field": "k", "type": "nominal", "scale": {"domain": ["s0", "s10", "s20", "s40", "s120", "s240"], "range": ["#111111", "#c3e1fa", "#8ccaf5", "#2aa3ee", "#0f62ad", "#0d3c74"]}, "legend": null}
     }
    },
    {
     "data": {"values": [
      {"x": 1240, "y": 1.041, "k": "s0", "t": "0s"},
      {"x": 1476, "y": 1.041, "k": "s10", "t": "10s"},
      {"x": 1730, "y": 1.041, "k": "s20", "t": "20s"},
      {"x": 1983, "y": 1.041, "k": "s40", "t": "40s"},
      {"x": 2258, "y": 1.041, "k": "s120", "t": "120s"},
      {"x": 2555, "y": 1.041, "k": "s240", "t": "240s"}
     ]},
     "mark": {"type": "text", "fontSize": 17, "fontWeight": "bold"},
     "encoding": {
      "x": {"field": "x", "type": "quantitative",
            "axis": {"orient": "top", "values": [1000,1100,1200,1300,1400,1500,1600,1700,1800,1900], "labels": false, "title": null,
                     "tickSize": {"condition": {"test": "datum.value % 200 === 0", "value": -5}, "value": -3}}},
      "y": {"field": "y", "type": "quantitative", "axis": null},
      "text": {"field": "t"},
      "color": {"field": "k", "type": "nominal", "legend": null}
     }
    },
    {
     "data": {"values": [{"x": 1092, "y": 0.962, "t": "(b)"}]},
     "mark": {"type": "text", "fontSize": 17, "color": "#222222"},
     "encoding": {
      "x": {"field": "x", "type": "quantitative", "axis": null},
      "y": {"field": "y", "type": "quantitative", "axis": null},
      "text": {"field": "t"}
     }
    },
    {
     "data": {"values": [{"x": 1913, "y": 0}, {"x": 1913, "y": 1}]},
     "mark": {"type": "text", "text": "//", "fontSize": 14, "color": "#333333"},
     "encoding": {
      "x": {"field": "x", "type": "quantitative", "axis": null},
      "y": {"field": "y", "type": "quantitative", "axis": null}
     }
    }
   ]
  },
  {
   "width": 207, "height": 316,
   "resolve": {"scale": {"x": "independent", "y": "independent", "color": "independent"}, "axis": {"x": "independent", "y": "independent"}},
   "layer": [
    {
     "resolve": {"axis": {"x": "independent", "y": "independent"}},
     "layer": [
      {
       "data": {"name": "bR"},
       "transform": [{"fold": ["s0", "s10", "s20", "s40", "s120", "s240"], "as": ["k", "v"]}],
       "mark": {"type": "line", "strokeWidth": 2},
       "encoding": {
        "x": {"field": "x", "type": "quantitative", "scale": {"domain": [2450, 3400], "nice": false, "zero": false},
              "axis": {"orient": "bottom", "values": [2500,2600,2700,2800,2900,3000,3100,3200,3300,3400], "format": "d",
                       "labelExpr": "datum.value % 200 === 0 ? datum.label : ''",
                       "tickSize": {"condition": {"test": "datum.value % 200 === 0", "value": -5}, "value": -3},
                       "labelPadding": 12, "title": null}},
        "y": {"field": "v", "type": "quantitative", "scale": {"domain": [0, 1], "nice": false, "zero": false},
              "axis": {"orient": "right", "values": [0.1,0.2,0.3,0.4,0.5,0.6,0.7,0.8,0.9,1.0], "labels": false, "title": null,
                       "tickSize": {"condition": {"test": "round(datum.value*10) % 2 === 0", "value": -5}, "value": -3}}},
        "color": {"field": "k", "type": "nominal", "scale": {"domain": ["s0", "s10", "s20", "s40", "s120", "s240"], "range": ["#111111", "#c3e1fa", "#8ccaf5", "#2aa3ee", "#0f62ad", "#0d3c74"]}, "legend": null}
       }
      },
      {
       "data": {"values": [{"x": 2941, "y": 0.31, "y2": 0.15}]},
       "mark": {"type": "rule", "color": "#bdbdbd", "strokeWidth": 9, "opacity": 0.75},
       "encoding": {
        "x": {"field": "x", "type": "quantitative",
              "axis": {"orient": "top", "values": [2500,2600,2700,2800,2900,3000,3100,3200,3300,3400], "labels": false, "title": null,
                       "tickSize": {"condition": {"test": "datum.value % 200 === 0", "value": -5}, "value": -3}}},
        "y": {"field": "y", "type": "quantitative", "axis": null},
        "y2": {"field": "y2"}
       }
      },
      {
       "data": {"values": [{"x": 2941, "y": 0.124}]},
       "mark": {"type": "point", "shape": "triangle-down", "filled": true, "color": "#bdbdbd", "size": 420, "opacity": 0.75},
       "encoding": {
        "x": {"field": "x", "type": "quantitative", "axis": null},
        "y": {"field": "y", "type": "quantitative", "axis": null}
       }
      }
     ]
    },
    {
     "layer": [
      {
       "data": {"values": [{}]},
       "mark": {"type": "rect", "fill": "white", "stroke": "#9a9a9a", "strokeWidth": 1},
       "encoding": {
        "x": {"datum": 1000, "type": "quantitative", "scale": {"domain": [1000, 3560], "range": [26, 187], "nice": false, "zero": false}, "axis": null},
        "x2": {"datum": 3560},
        "y": {"datum": -0.03, "type": "quantitative", "scale": {"domain": [-0.03, 1.21], "range": [184, 13], "nice": false, "zero": false}, "axis": null},
        "y2": {"datum": 1.21}
       }
      },
      {
       "data": {"values": [{"x": 2943, "y": 0.223}]},
       "mark": {"type": "point", "filled": true, "color": "#d3e8fa", "size": 3800, "opacity": 1, "strokeWidth": 0},
       "encoding": {
        "x": {"field": "x", "type": "quantitative", "axis": null},
        "y": {"field": "y", "type": "quantitative", "axis": null}
       }
      },
      {
       "data": {"name": "bIx"},
       "mark": {"type": "rule", "color": "#666666", "strokeWidth": 1},
       "encoding": {
        "x": {"field": "v", "type": "quantitative", "axis": null},
        "y": {"datum": -0.03, "type": "quantitative", "axis": null},
        "y2": {"datum": -0.01}
       }
      },
      {
       "data": {"name": "bIy"},
       "mark": {"type": "rule", "color": "#666666", "strokeWidth": 1},
       "encoding": {
        "x": {"datum": 1000, "type": "quantitative", "axis": null},
        "x2": {"datum": 1050},
        "y": {"field": "v", "type": "quantitative", "axis": null}
       }
      },
      {
       "data": {"name": "bI"},
       "transform": [{"fold": ["go", "gon", "rgo", "rgon"], "as": ["s", "v"]}],
       "mark": {"type": "line", "strokeWidth": 1.6},
       "encoding": {
        "x": {"field": "x", "type": "quantitative", "axis": null},
        "y": {"field": "v", "type": "quantitative", "axis": null},
        "color": {"field": "s", "type": "nominal", "scale": {"domain": ["go", "gon", "rgo", "rgon"], "range": ["#111111", "#ababab", "#2a2ad2", "#8585f0"]}, "legend": null}
       }
      },
      {
       "data": {"name": "bIx"},
       "mark": {"type": "text", "fontSize": 8.5, "color": "#444444", "baseline": "top", "dy": 3},
       "encoding": {
        "x": {"field": "v", "type": "quantitative", "axis": null},
        "y": {"datum": -0.03, "type": "quantitative", "axis": null},
        "text": {"field": "t"}
       }
      },
      {
       "data": {"name": "bIy"},
       "mark": {"type": "text", "fontSize": 8.5, "color": "#444444", "align": "right", "baseline": "middle", "dx": -4},
       "encoding": {
        "x": {"datum": 1000, "type": "quantitative", "axis": null},
        "y": {"field": "v", "type": "quantitative", "axis": null},
        "text": {"field": "t"}
       }
      },
      {
       "data": {"values": [{"x": 2280, "y": -0.03, "t": "Raman shift (cm⁻¹)"}]},
       "mark": {"type": "text", "fontSize": 10, "color": "#333333", "baseline": "top", "dy": 16},
       "encoding": {
        "x": {"field": "x", "type": "quantitative", "axis": null},
        "y": {"field": "y", "type": "quantitative", "axis": null},
        "text": {"field": "t"}
       }
      },
      {
       "data": {"values": [{"x": 600, "y": 0.59, "t": "Norm intensity (a.u.)"}]},
       "mark": {"type": "text", "fontSize": 9.5, "color": "#333333", "angle": 270, "baseline": "middle"},
       "encoding": {
        "x": {"field": "x", "type": "quantitative", "axis": null},
        "y": {"field": "y", "type": "quantitative", "axis": null},
        "text": {"field": "t"}
       }
      },
      {
       "data": {"values": [
        {"x": 3550, "y": 1.139, "s": "go", "t": "GO - 0s"},
        {"x": 3550, "y": 1.058, "s": "rgo", "t": "rGO - 240s"},
        {"x": 3550, "y": 0.975, "s": "gon", "t": "GO - 0s, post  NH₃"},
        {"x": 3550, "y": 0.885, "s": "rgon", "t": "rGO - 240s, post  NH₃"}
       ]},
       "mark": {"type": "text", "align": "right", "fontSize": 11},
       "encoding": {
        "x": {"field": "x", "type": "quantitative", "axis": null},
        "y": {"field": "y", "type": "quantitative", "axis": null},
        "text": {"field": "t"},
        "color": {"field": "s", "type": "nominal", "legend": null}
       }
      }
     ]
    }
   ]
  }
]
}
